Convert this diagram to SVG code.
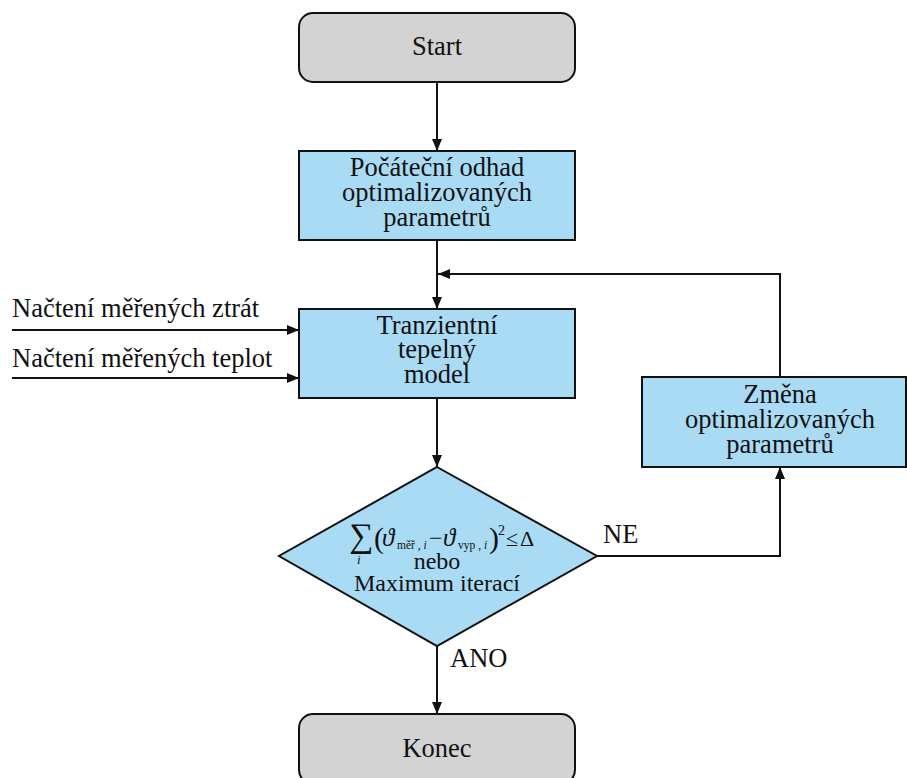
<svg xmlns="http://www.w3.org/2000/svg" width="907" height="778" viewBox="0 0 907 778">
<style>
.t{font-family:"Liberation Serif","DejaVu Serif",serif;font-size:26.5px;fill:#111;text-anchor:middle}
.l{font-family:"Liberation Serif","DejaVu Serif",serif;font-size:26.5px;fill:#111}
.d{font-family:"Liberation Serif","DejaVu Serif",serif;font-size:24px;fill:#111;text-anchor:middle}
.m{font-family:"Liberation Serif","DejaVu Serif",serif;fill:#111}
.term{fill:#d3d3d3;stroke:#111;stroke-width:2}
.proc{fill:#a9dbf5;stroke:#111;stroke-width:2}
.c{fill:none;stroke:#111;stroke-width:2}
</style>
<defs>
<marker id="ah" markerUnits="userSpaceOnUse" markerWidth="12" markerHeight="10" refX="12" refY="5" orient="auto">
<path d="M0,0 L12,5 L0,10 Z" fill="#111"/>
</marker>
</defs>
<g id="connectors">
<path class="c" d="M437,82 V151" marker-end="url(#ah)"/>
<path class="c" d="M437,240 V309" marker-end="url(#ah)"/>
<path class="c" d="M437,398 V467" marker-end="url(#ah)"/>
<path class="c" d="M437,646 V714" marker-end="url(#ah)"/>
<path class="c" d="M780,377 V274 H438" marker-end="url(#ah)"/>
<path class="c" d="M597,556 H780 V467" marker-end="url(#ah)"/>
<path class="c" d="M12,330 H299" marker-end="url(#ah)"/>
<path class="c" d="M12,378 H299" marker-end="url(#ah)"/>
<text class="l" x="603" y="543">NE</text>
<text class="l" x="450" y="667">ANO</text>
<text class="l" x="12" y="317">Načtení měřených ztrát</text>
<text class="l" x="12" y="367">Načtení měřených teplot</text>
</g>
<g id="start">
<rect class="term" x="299" y="13" width="276" height="69" rx="14"/>
<text class="t" x="437" y="55">Start</text>
</g>
<g id="odhad">
<rect class="proc" x="299" y="151" width="276" height="89"/>
<text class="t" x="437" y="176">Počáteční odhad</text>
<text class="t" x="437" y="201">optimalizovaných</text>
<text class="t" x="437" y="226">parametrů</text>
</g>
<g id="model">
<rect class="proc" x="299" y="309" width="276" height="89"/>
<text class="t" x="437" y="334">Tranzientní</text>
<text class="t" x="437" y="358">tepelný</text>
<text class="t" x="437" y="383">model</text>
</g>
<g id="zmena">
<rect class="proc" x="642" y="377" width="264" height="90"/>
<text class="t" x="780" y="403">Změna</text>
<text class="t" x="780" y="428">optimalizovaných</text>
<text class="t" x="780" y="453">parametrů</text>
</g>
<g id="podminka">
<polygon class="proc" points="437,467 597,556 437,646 279,556"/>
<text class="m" x="349" y="547" font-size="34">∑</text>
<text class="m" x="357" y="564" font-size="13" font-style="italic">i</text>
<text class="m" x="374" y="548" font-size="30">(</text>
<text class="m" x="382" y="546" font-size="25" font-style="italic">ϑ</text>
<text class="m" x="397" y="549" font-size="11.5">měř , <tspan font-style="italic">i</tspan></text>
<text class="m" x="429" y="546" font-size="24">−</text>
<text class="m" x="443" y="546" font-size="25" font-style="italic">ϑ</text>
<text class="m" x="458" y="549" font-size="11.5">vyp , <tspan font-style="italic">i</tspan></text>
<text class="m" x="489" y="548" font-size="30">)</text>
<text class="m" x="498" y="535" font-size="14">2</text>
<text class="m" x="506" y="546" font-size="22">≤</text>
<text class="m" x="520" y="546" font-size="22">Δ</text>
<text class="d" x="437" y="569">nebo</text>
<text class="d" x="437" y="591">Maximum iterací</text>
</g>
<g id="konec">
<rect class="term" x="299" y="714" width="276" height="70" rx="14"/>
<text class="t" x="437" y="757">Konec</text>
</g>
</svg>
